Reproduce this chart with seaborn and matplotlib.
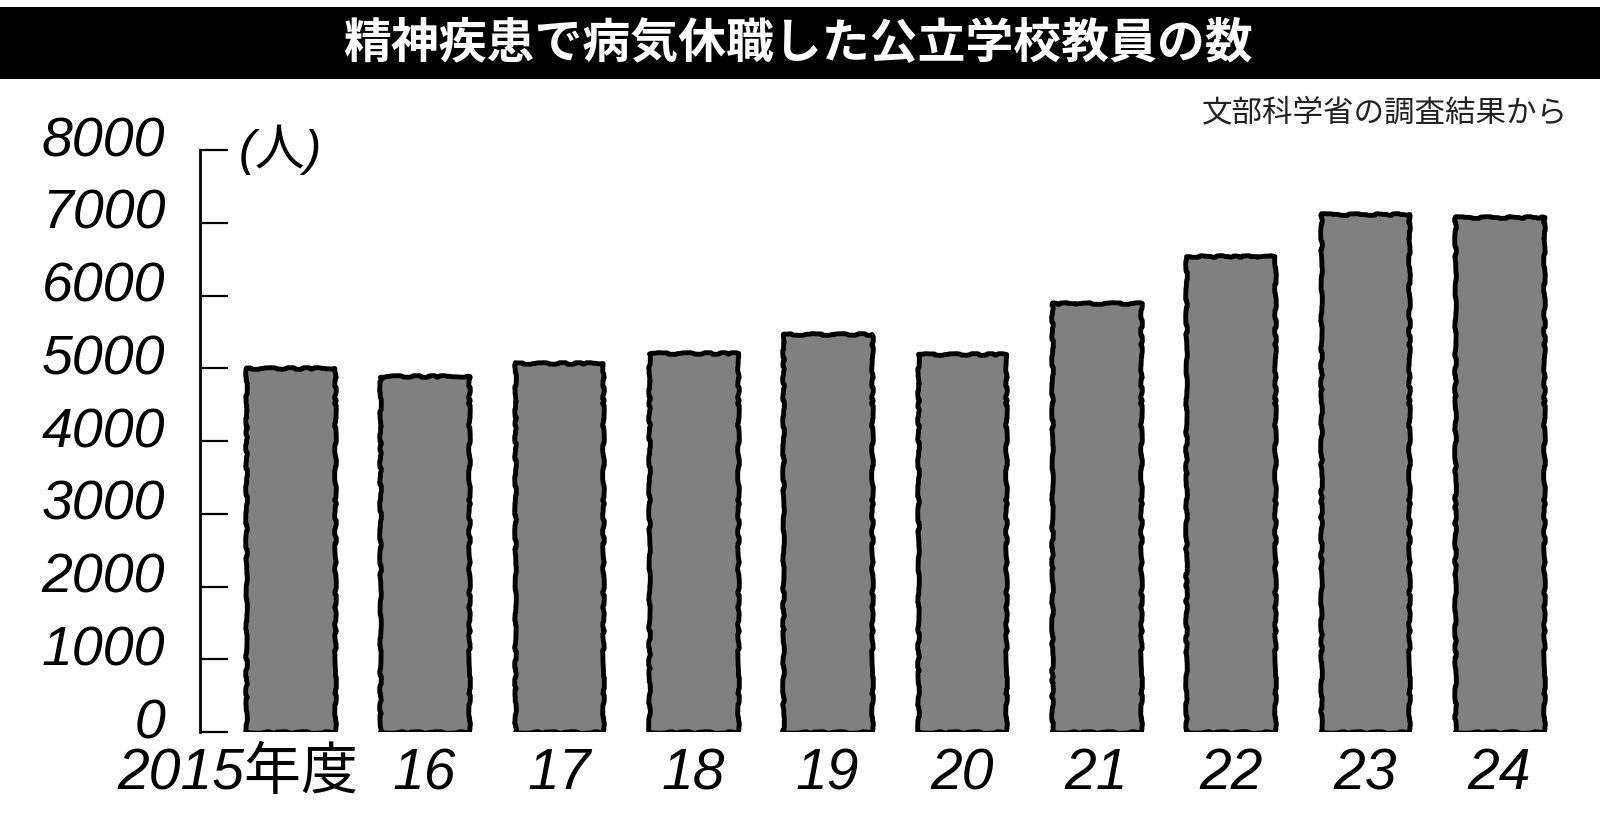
import matplotlib
matplotlib.use('Agg')
import matplotlib.pyplot as plt
import matplotlib.transforms as mtransforms
from matplotlib.patches import Rectangle
import pandas as pd
import seaborn as sns

# Data
years = ['2015年度', '16', '17', '18', '19', '20', '21', '22', '23', '24']
counts = [5009, 4891, 5077, 5212, 5478, 5203, 5897, 6539, 7119, 7087]
yticks = [0, 1000, 2000, 3000, 4000, 5000, 6000, 7000, 8000]

title = '精神疾患で病気休職した公立学校教員の数'
source = '文部科学省の調査結果から'
unit = '(人)'

sns.set_style('white')
plt.rcParams['font.family'] = ['Liberation Sans', 'Noto Sans CJK JP', 'DejaVu Sans']
plt.rcParams['text.color'] = 'black'
plt.rcParams['xtick.color'] = 'black'
plt.rcParams['ytick.color'] = 'black'

df = pd.DataFrame({'year': years, 'count': counts})

fig = plt.figure(figsize=(16, 8.15), dpi=100)
ax = fig.add_axes([0.125, 0.1018, 0.8625, 0.714])

sns.barplot(data=df, x='year', y='count', color='#808080', saturation=1,
            edgecolor='black', linewidth=3.5, width=0.66, ax=ax)

# slightly rough, hand-drawn look on the bars
for p in ax.patches:
    p.set_sketch_params(scale=0.8, length=120, randomness=40)
    p.set_joinstyle('round')

ax.set_ylim(0, 8000)
ax.set_xlim(-0.672, 9.6)
ax.set_yticks(yticks)
ax.set_xlabel('')
ax.set_ylabel('')

for s in ['top', 'right', 'bottom']:
    ax.spines[s].set_visible(False)
ax.spines['left'].set_linewidth(2)
ax.spines['left'].set_color('black')

ax.tick_params(axis='y', left=True, direction='in', length=20, width=1.6,
               color='black', pad=25, labelsize=40, labelcolor='black')
ax.tick_params(axis='x', bottom=False, length=0, pad=11, labelsize=41,
               labelcolor='black')

hand = dict(family=['Liberation Sans', 'Noto Sans CJK JP'], style='italic')
for lab in ax.get_yticklabels():
    lab.set_fontstyle('italic')
    lab.set_transform(lab.get_transform() +
                      mtransforms.ScaledTranslation(0, 0.14, fig.dpi_scale_trans))
for lab in ax.get_xticklabels():
    lab.set_fontstyle('italic')
xl = ax.get_xticklabels()[0]
xl.set_transform(xl.get_transform() +
                 mtransforms.ScaledTranslation(-0.52, 0, fig.dpi_scale_trans))

# unit label
ax.text(0.058, 1.0, unit, transform=ax.transAxes, fontsize=36, ha='center',
        va='center', **hand)

# title bar
fig.patches.append(Rectangle((0, 0.903), 1, 0.0883, transform=fig.transFigure,
                             facecolor='black', edgecolor='none', zorder=0))
fig.text(0.499, 0.9475, title, color='white', fontsize=34.5, fontweight='bold',
         ha='center', va='center', family=['Noto Sans CJK JP', 'DejaVu Sans'])
fig.text(0.98, 0.862, source, color='#222222', fontsize=22, ha='right',
         va='center', family=['Noto Sans CJK JP', 'DejaVu Sans'])

fig.savefig('out.png', dpi=100, facecolor='white')
